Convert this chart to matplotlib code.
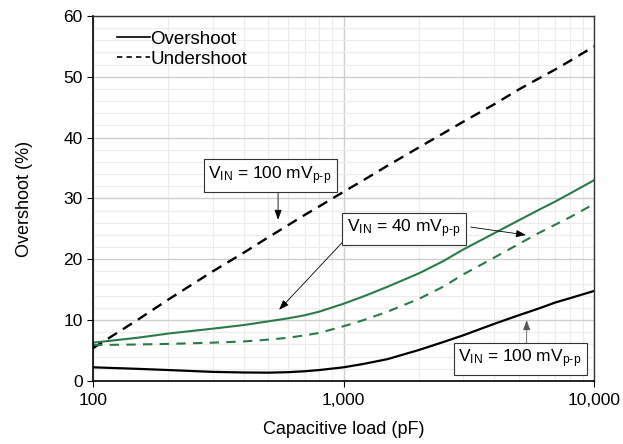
import matplotlib
matplotlib.use('Agg')
import matplotlib.pyplot as plt
from matplotlib.ticker import FixedLocator, FixedFormatter, NullFormatter
import numpy as np

# Данные (емкостная нагрузка, пФ -> выброс, %)
cap_load = [100, 150, 200, 300, 400, 500, 600, 700, 800, 1000, 1200, 1500,
            2000, 2500, 3000, 4000, 5000, 6000, 7000, 8000, 10000]
over_100mv = [2.25, 2.0, 1.8, 1.5, 1.4, 1.37, 1.45, 1.6, 1.8, 2.25, 2.8, 3.6,
              5.1, 6.4, 7.5, 9.4, 10.8, 11.9, 12.9, 13.6, 14.8]
over_40mv = [6.3, 7.1, 7.8, 8.6, 9.2, 9.8, 10.3, 10.8, 11.4, 12.7, 13.9, 15.5,
             17.7, 19.7, 21.6, 24.3, 26.4, 28.1, 29.5, 30.8, 33.0]
under_40mv = [5.9, 6.0, 6.1, 6.3, 6.5, 6.8, 7.1, 7.5, 7.9, 9.0, 10.0, 11.4,
              13.5, 15.5, 17.5, 20.3, 22.5, 24.3, 25.7, 26.9, 29.1]
under_100mv = [5.4, 10.0, 13.4, 18.0, 21.1, 23.6, 25.6, 27.3, 28.7, 31.1, 33.0, 35.4,
               38.4, 40.7, 42.6, 45.5, 47.9, 49.7, 51.2, 52.6, 55.0]

x_ticks = [100, 1000, 10000]
x_tick_labels = ['100', '1,000', '10,000']
y_ticks = [0, 10, 20, 30, 40, 50, 60]

plt.rcParams['font.family'] = ['Liberation Sans', 'DejaVu Sans']
plt.rcParams['mathtext.fontset'] = 'custom'
plt.rcParams['mathtext.rm'] = 'Liberation Sans'
plt.rcParams['mathtext.it'] = 'Liberation Sans'

green = '#2b7a4b'

fig = plt.figure(figsize=(6.23, 4.44), dpi=100)
ax = fig.add_axes([0.1493, 0.1419, 0.8042, 0.8221])

ax.set_xscale('log')
ax.set_xlim(100, 10000)
ax.set_ylim(0, 60)

# Сетка
ax.xaxis.set_major_locator(FixedLocator(x_ticks))
ax.xaxis.set_major_formatter(FixedFormatter(x_tick_labels))
ax.xaxis.set_minor_locator(FixedLocator([m * d for d in (100, 1000) for m in range(2, 10)]))
ax.xaxis.set_minor_formatter(NullFormatter())
ax.yaxis.set_major_locator(FixedLocator(y_ticks))
ax.yaxis.set_minor_locator(FixedLocator(np.arange(0, 61, 2)))
ax.grid(True, which='major', color='#cfcfcf', lw=1.0)
ax.grid(True, which='minor', color='#ececec', lw=0.8)
ax.set_axisbelow(True)
ax.tick_params(which='minor', length=0)
ax.tick_params(which='major', direction='out', length=4, width=0.8,
               labelsize=12.5, colors='black')
ax.tick_params(axis='x', which='major', pad=5)

for side in ['left', 'bottom']:
    ax.spines[side].set_color('black')
    ax.spines[side].set_linewidth(1.2)
for side in ['top', 'right']:
    ax.spines[side].set_color('#333333')
    ax.spines[side].set_linewidth(1.0)

# Кривые
ax.plot(cap_load, over_100mv, color='black', lw=1.6)
ax.plot(cap_load, under_100mv, color='black', lw=1.7, dashes=(4.5, 3))
ax.plot(cap_load, over_40mv, color=green, lw=1.5)
ax.plot(cap_load, under_40mv, color=green, lw=1.5, dashes=(4.5, 3.5))

# Легенда
ax.plot([], [], color='black', lw=1.2, label='Overshoot')
ax.plot([], [], color='black', lw=1.2, dashes=(3.2, 2.5), label='Undershoot')
handles, labels = ax.get_legend_handles_labels()
ax.legend(handles, labels, loc='upper left', frameon=False, fontsize=13.5,
          handlelength=1.75, handletextpad=0.05, labelspacing=0.15,
          borderaxespad=0.2, bbox_to_anchor=(0.025, 0.99))

box = dict(boxstyle='square,pad=0.28', fc='white', ec='#333333', lw=0.8)
arrow = dict(arrowstyle='-|>,head_length=0.6,head_width=0.22', color='black',
             lw=0.6, shrinkA=0, shrinkB=0)

lbl100 = r'V$_{\mathregular{IN}}$ = 100 mV$_{\mathregular{p\text{-}p}}$'
lbl40 = r'V$_{\mathregular{IN}}$ = 40 mV$_{\mathregular{p\text{-}p}}$'

ax.text(509, 33.8, lbl100, fontsize=12.5, ha='center', va='center', bbox=box, zorder=5)
ax.annotate('', xy=(548, 26.5), xytext=(548, 31.9), arrowprops=arrow, zorder=4)

ax.text(1744, 25.0, lbl40, fontsize=12.5, ha='center', va='center', bbox=box, zorder=5)
ax.annotate('', xy=(553, 11.7), xytext=(1000, 23.0), arrowprops=arrow, zorder=4)
ax.annotate('', xy=(5352, 24.0), xytext=(3220, 25.3), arrowprops=arrow, zorder=4)

ax.text(5065, 3.67, lbl100, fontsize=12.5, ha='center', va='center', bbox=box, zorder=5)
ax.annotate('', xy=(5384, 10.0), xytext=(5384, 5.6),
            arrowprops=dict(arrow, color='#555555'), zorder=4)

ax.set_xlabel('Capacitive load (pF)', fontsize=13, labelpad=9)
ax.set_ylabel('Overshoot (%)', fontsize=13, labelpad=22)

fig.savefig('out.png', dpi=100)
